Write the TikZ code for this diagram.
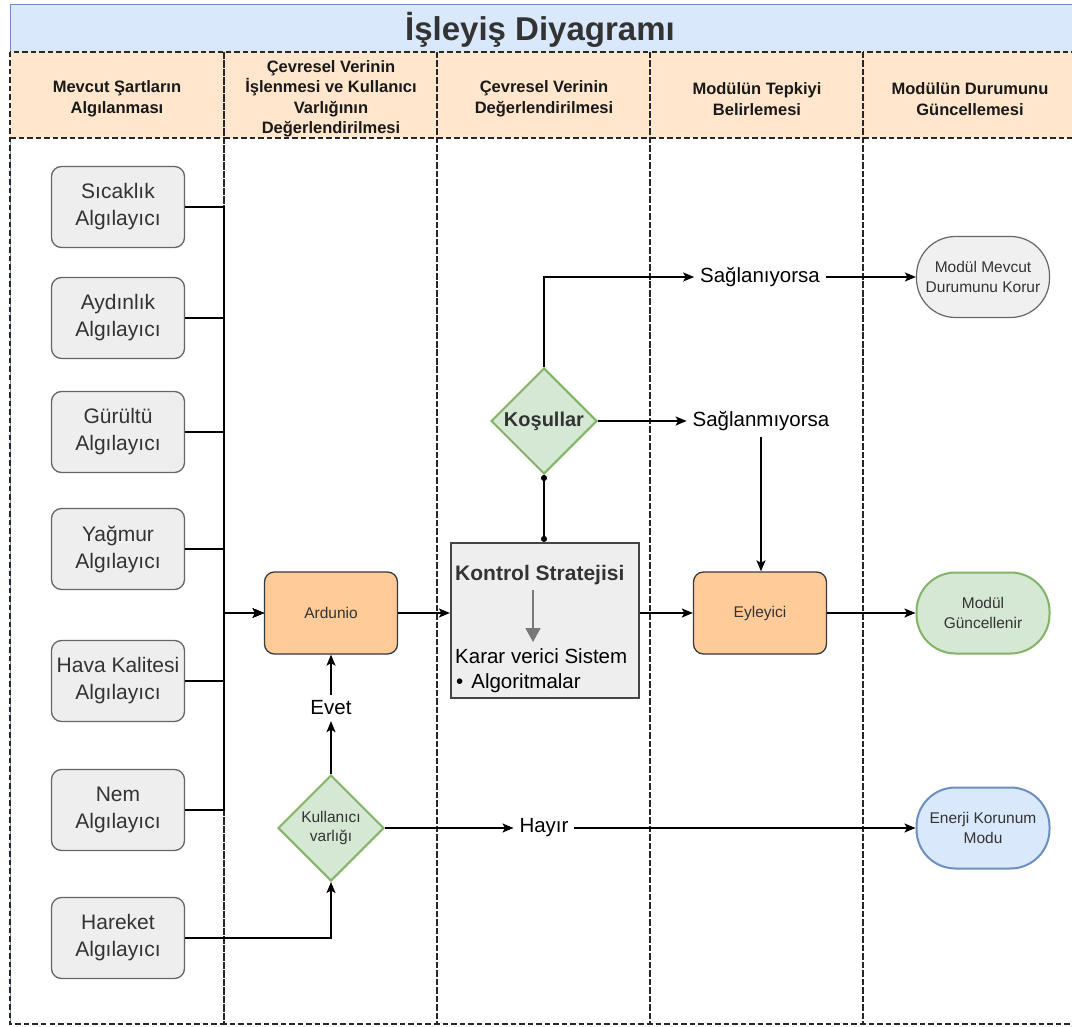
\documentclass[tikz,border=0pt]{standalone}
\usepackage{fontspec}
\setmainfont{Liberation Sans}
\usetikzlibrary{arrows.meta,shapes.geometric}
\definecolor{pblue}{HTML}{DAE8FC}
\definecolor{pbluestroke}{HTML}{6C8EBF}
\definecolor{hdr}{HTML}{FFE6CC}
\definecolor{sgray}{HTML}{EEEEEE}
\definecolor{tgray}{HTML}{F0F0F0}
\definecolor{sgraystroke}{HTML}{666666}
\definecolor{org}{HTML}{FFCC99}
\definecolor{orgstroke}{HTML}{36393D}
\definecolor{gfill}{HTML}{D5E8D4}
\definecolor{gstroke}{HTML}{82B366}
\definecolor{txt}{HTML}{333333}
\definecolor{boxstroke}{HTML}{444444}
\definecolor{arrgray}{HTML}{777777}
\begin{document}
\begin{tikzpicture}[x=1pt,y=-1pt,
  lane/.style={draw=black!85, dash pattern=on 5.5pt off 3pt, line width=1.6pt},
  sensor/.style={draw=sgraystroke, fill=sgray, rounded corners=10pt, minimum width=133pt, minimum height=81pt, line width=1.3pt, align=center, font=\fontsize{21}{27}\selectfont, text=txt, inner sep=0pt},
  proc/.style={draw=orgstroke, fill=org, rounded corners=10pt, minimum width=133pt, minimum height=82pt, line width=1.3pt, font=\fontsize{15.5}{19}\selectfont, text=txt},
  term/.style={rounded corners=39pt, minimum width=133pt, minimum height=81pt, align=center, font=\fontsize{15.5}{19.5}\selectfont, text=txt, inner sep=0pt},
  decision/.style={shape=diamond, draw=gstroke, fill=gfill, line width=2pt, minimum width=106pt, minimum height=106pt, inner sep=0pt, align=center, text=txt},
  lbl/.style={font=\fontsize{20.5}{24}\selectfont, text=black, inner sep=0pt, outer sep=6pt},
  hdrtext/.style={font=\fontsize{16.5}{20.5}\selectfont\bfseries, align=center, text=black!90},
  conn/.style={line width=1.6pt, draw=black, -{Stealth[length=11pt,width=9pt,inset=2.5pt]}},
  plain/.style={line width=1.6pt, draw=black}
]
\useasboundingbox (0,0) rectangle (1072,1027);
\clip (0,0) rectangle (1072,1027);
\fill[white] (0,0) rectangle (1072,1027);

% pool
\fill[pblue] (10,5) rectangle (1085,52);
\draw[pbluestroke, line width=1pt] (10,1024) -- (10,5) -- (1085,5);
\node[font=\fontsize{33}{36}\selectfont\bfseries, text=txt] (title) at (540,30) {İşleyiş Diyagramı};

% header
\fill[hdr] (10,52) rectangle (1085,138);
\foreach \xa/\xb in {10/224,224/437,437/650,650/863,863/1090}{
  \draw[lane] (\xa,52) rectangle (\xb,1024);
  \draw[lane] (\xa,138) -- (\xb,138);
}
\node[hdrtext] (h1) at (117,99) {Mevcut Şartların\\Algılanması};
\node[hdrtext] (h2) at (331,99) {Çevresel Verinin\\İşlenmesi ve Kullanıcı\\Varlığının\\Değerlendirilmesi};
\node[hdrtext] (h3) at (544,99) {Çevresel Verinin\\Değerlendirilmesi};
\node[hdrtext] (h4) at (757,99) {Modülün Tepkiyi\\Belirlemesi};
\node[hdrtext] (h5) at (970,99) {Modülün Durumunu\\Güncellemesi};

% sensors
\node[sensor] (s1) at (118,207) {Sıcaklık\\Algılayıcı};
\node[sensor] (s2) at (118,318) {Aydınlık\\Algılayıcı};
\node[sensor] (s3) at (118,432) {Gürültü\\Algılayıcı};
\node[sensor] (s4) at (118,549) {Yağmur\\Algılayıcı};
\node[sensor] (s5) at (118,681) {Hava Kalitesi\\Algılayıcı};
\node[sensor] (s6) at (118,810) {Nem\\Algılayıcı};
\node[sensor] (s7) at (118,938) {Hareket\\Algılayıcı};

% process nodes
\node[proc] (ard) at (331,613) {Ardunio};
\node[proc] (eyl) at (760,613) {Eyleyici};
\node[draw=boxstroke, fill=sgray, line width=2.2pt, minimum width=188pt, minimum height=155pt, inner sep=0pt] (kont) at (545,620.5) {};
\node[font=\fontsize{21}{24}\selectfont\bfseries, text=txt, anchor=west, inner sep=0pt] (kt) at (455,575) {Kontrol Stratejisi};
\node[font=\fontsize{20.5}{24}\selectfont, text=black, anchor=west, inner sep=0pt] (kv1) at (455,656) {Karar verici Sistem};
\node[font=\fontsize{20.5}{24}\selectfont, text=black, anchor=west, inner sep=0pt] (kv2) at (456,683) {•\hspace{8pt}Algoritmalar};
\coordinate (ga1) at (533,590);
\coordinate (ga2) at (533,642);
\draw[arrgray, line width=1.8pt, -{Triangle[length=14pt,width=15pt]}] (ga1) -- (ga2);

% decisions
\node[decision, font=\fontsize{20}{24}\selectfont\bfseries] (kos) at (544,421) {Koşullar};
\node[decision, font=\fontsize{15.5}{19}\selectfont] (kvar) at (331,828) {Kullanıcı\\varlığı};

% terminals
\node[term, draw=sgraystroke, fill=tgray, line width=1.2pt] (korur) at (983,277) {Modül Mevcut\\Durumunu Korur};
\node[term, draw=gstroke, fill=gfill, line width=2pt] (gunc) at (983,613) {Modül\\Güncellenir};
\node[term, draw=pbluestroke, fill=pblue, line width=2pt] (enerji) at (983,828) {Enerji Korunum\\Modu};

% edge labels
\node[lbl] (sag) at (760,277) {Sağlanıyorsa};
\node[lbl] (sagm) at (761,421) {Sağlanmıyorsa};
\node[lbl] (evet) at (331,708) {Evet};
\node[lbl] (hayir) at (544,828) {Hayır};

% bus
\coordinate (bus) at (224,613);
\foreach \s in {s1,s2,s3,s4,s5,s6}{
  \draw[conn] (\s.east) -- (\s.east -| bus) |- (ard.west);
}
\draw[conn] (s7.east) -| (kvar.south);
\draw[conn] (kvar.north) -- (evet.south);
\draw[conn] (evet.north) -- (ard.south);
\draw[conn] (kvar.east) -- (hayir.west |- kvar.east);
\draw[conn] (hayir.east |- enerji.west) -- (enerji.west);
\draw[conn] (ard.east) -- (ard.east -| kont.west);
\draw[conn] (kont.east |- eyl.west) -- (eyl.west);
\draw[conn] (eyl.east) -- (gunc.west);
\draw[plain, {Circle[length=6pt]}-{Circle[length=6pt]}] (kos.south) -- (kont.north -| kos.south);
\draw[conn] (kos.north) |- (sag.west);
\draw[conn] (sag.east) -- (korur.west);
\draw[conn] (kos.east) -- (sagm.west |- kos.east);
\draw[conn] (sagm.south) -- (eyl.north -| sagm.south);
\end{tikzpicture}
\end{document}
